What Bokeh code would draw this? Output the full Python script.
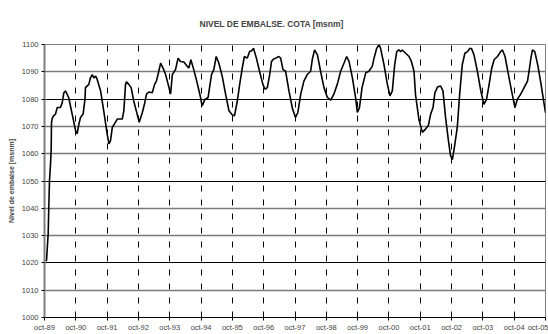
from bokeh.plotting import figure
from bokeh.models import FixedTicker, Range1d, Grid, ColumnDataSource
from bokeh.embed import file_html
from bokeh.resources import INLINE

# months since oct-89 and reservoir level [msnm]
months = [0.38, 0.77, 1.42, 1.65, 1.92, 2.3, 2.57, 2.68, 3.0, 3.34, 4.2, 4.9, 6.1, 6.8, 7.4, 8.05,
          9.3, 10.6, 11.9, 12.5, 13.2, 13.8, 14.8, 15.5, 15.7, 17.0, 17.6, 18.3, 18.9, 19.6, 20.2,
          21.5, 22.7, 24.0, 24.7, 25.3, 26.0, 26.8, 27.9, 29.8, 30.4, 31.05, 31.4, 32.3, 33.2,
          34.2, 35.5, 36.3, 37.5, 38.3, 39.1, 40.0, 41.3, 42.2, 42.9, 43.8, 44.5, 45.7, 46.4,
          47.4, 48.3, 49.0, 50.2, 51.2, 52.1, 53.4, 54.7, 55.3, 56.1, 57.2, 58.5, 59.8, 60.4,
          61.5, 62.7, 64.0, 64.9, 65.8, 66.8, 68.1, 69.4, 70.7, 72.0, 72.8, 73.9, 74.8, 75.8,
          76.6, 77.7, 78.6, 79.4, 80.1, 81.2, 82.4, 83.7, 84.5, 85.4, 86.3, 87.0, 87.9, 88.6,
          89.8, 90.5, 91.4, 92.4, 93.7, 95.0, 96.2, 97.1, 98.2, 99.4, 100.7, 102.0, 102.6,
          103.5, 104.6, 105.8, 107.1, 108.4, 109.7, 110.9, 112.2, 113.5, 114.8, 115.8, 116.7,
          118.0, 119.2, 119.9, 120.7, 121.7, 123.1, 124.3, 125.6, 126.3, 127.3, 128.2, 128.8,
          130.1, 131.4, 132.4, 133.3, 134.2, 135.0, 135.8, 136.5, 137.1, 138.4, 139.7, 140.6,
          141.6, 142.2, 143.5, 144.8, 146.1, 147.1, 148.0, 148.9, 149.6, 150.6, 151.8, 152.7,
          153.7, 154.8, 155.6, 156.3, 157.1, 158.2, 159.1, 160.1, 161.1, 162.1, 163.1, 163.7,
          164.6, 165.9, 167.2, 168.4, 169.4, 170.4, 171.4, 172.3, 173.6, 174.8, 175.5, 176.5,
          177.8, 179.0, 180.3, 181.2, 182.5, 183.8, 185.1, 185.7, 186.4, 187.0, 187.9, 189.0,
          190.3, 191.5, 192.0]
level = [1021.0, 1020.8, 1030.9, 1040.6, 1050.2, 1056.0, 1062.0, 1071.5, 1073.0, 1073.7, 1074.5,
         1076.9, 1076.9, 1078.7, 1082.3, 1083.0, 1080.5, 1074.5, 1068.5, 1067.3, 1070.9, 1073.3,
         1074.5, 1079.9, 1084.2, 1085.4, 1087.8, 1089.0, 1087.8, 1088.4, 1087.2, 1083.0, 1075.7,
         1067.3, 1063.6, 1064.8, 1069.7, 1070.9, 1072.7, 1072.7, 1075.7, 1085.4, 1086.3, 1085.4,
         1084.2, 1079.3, 1074.5, 1071.5, 1075.1, 1078.1, 1081.8, 1082.6, 1082.3, 1085.4, 1086.6,
         1090.2, 1093.2, 1090.8, 1089.0, 1085.4, 1081.8, 1089.0, 1090.8, 1095.0, 1093.8, 1093.6,
         1092.0, 1091.4, 1094.4, 1090.8, 1086.0, 1080.6, 1077.5, 1079.9, 1080.6, 1089.0, 1090.8,
         1095.6, 1093.2, 1088.4, 1081.8, 1075.7, 1074.2, 1073.9, 1079.3, 1085.4, 1091.4, 1095.6,
         1095.0, 1097.4, 1097.7, 1098.6, 1095.0, 1090.2, 1085.4, 1083.6, 1084.2, 1089.0, 1093.8,
         1094.8, 1095.0, 1095.6, 1095.0, 1090.8, 1090.2, 1082.9, 1076.6, 1073.3, 1075.1, 1081.8,
         1086.6, 1089.0, 1090.2, 1094.4, 1098.0, 1096.2, 1090.2, 1084.2, 1080.6, 1079.6, 1081.8,
         1085.4, 1090.2, 1093.2, 1095.6, 1093.8, 1087.8, 1080.6, 1075.1, 1076.9, 1084.2, 1089.6,
         1090.2, 1092.0, 1095.0, 1098.6, 1099.9, 1098.6, 1092.6, 1085.4, 1081.2, 1083.0, 1092.6,
         1097.4, 1098.0, 1097.4, 1098.0, 1096.8, 1095.6, 1093.8, 1090.2, 1081.5, 1072.5, 1067.8,
         1069.1, 1070.3, 1074.5, 1076.9, 1082.3, 1084.4, 1084.8, 1083.0, 1073.3, 1064.8, 1059.4,
         1057.8, 1062.4, 1069.7, 1081.8, 1092.6, 1096.8, 1097.4, 1098.6, 1098.4, 1096.2, 1090.2,
         1083.0, 1078.1, 1079.9, 1085.4, 1091.4, 1094.4, 1095.6, 1097.4, 1098.0, 1095.6, 1089.0,
         1083.0, 1076.9, 1079.9, 1081.8, 1084.2, 1086.6, 1090.2, 1095.0, 1098.0, 1097.4, 1092.6,
         1085.4, 1078.1, 1075.0]

tick_months = [0, 12, 24, 36, 48, 60, 72, 84, 96, 108, 120, 132, 144, 156, 168, 180, 192]
tick_labels = ["oct-89", "oct-90", "oct-91", "oct-92", "oct-93", "oct-94", "oct-95", "oct-96",
               "oct-97", "oct-98", "oct-99", "oct-00", "oct-01", "oct-02", "oct-03", "oct-04",
               "oct-05"]
y_ticks = [1000, 1010, 1020, 1030, 1040, 1050, 1060, 1070, 1080, 1090, 1100]

FONT = "Liberation Sans"

p = figure(width=548, height=334, output_backend="svg", toolbar_location=None,
           x_range=Range1d(0, 192), y_range=Range1d(1000, 1100),
           min_border_left=44, min_border_right=3, min_border_top=44, min_border_bottom=14,
           title="NIVEL DE EMBALSE. COTA [msnm]")
p.background_fill_color = "white"
p.border_fill_color = "white"
p.outline_line_color = "#808080"
p.outline_line_width = 1

p.title.text_font = FONT
p.title.text_font_size = "8.5px"
p.title.text_font_style = "bold"
p.title.align = "left"
p.title.offset = 155
p.title.standoff = 31

# axes
p.xaxis.ticker = FixedTicker(ticks=tick_months)
p.xaxis.major_label_overrides = {m: l for m, l in zip(tick_months, tick_labels)}
p.xaxis.axis_line_color = "black"
p.xaxis.major_tick_out = 3
p.xaxis.major_tick_in = 0
p.xaxis.minor_tick_line_color = None
p.xaxis.major_label_text_font = FONT
p.xaxis.major_label_text_font_size = "7.5px"
p.xaxis.major_label_standoff = 2

p.yaxis.ticker = FixedTicker(ticks=y_ticks)
p.yaxis.axis_line_color = "#808080"
p.yaxis.axis_line_width = 2
p.yaxis.major_tick_out = 3
p.yaxis.major_tick_in = 0
p.yaxis.minor_tick_line_color = None
p.yaxis.major_label_text_font = FONT
p.yaxis.major_label_text_font_size = "7.5px"
p.yaxis.major_label_standoff = 3
p.yaxis.axis_label = "Nivel de embalse [msnm]"
p.yaxis.axis_label_text_font = FONT
p.yaxis.axis_label_text_font_size = "7px"
p.yaxis.axis_label_text_font_style = "bold"
p.yaxis.axis_label_standoff = 4

# grids
p.xgrid.ticker = FixedTicker(ticks=tick_months[1:-1])
p.xgrid.grid_line_color = "black"
p.xgrid.grid_line_dash = "6 8"
p.xgrid.grid_line_width = 1

p.ygrid.ticker = FixedTicker(ticks=[1010, 1030, 1040, 1060, 1070, 1090, 1100])
p.ygrid.grid_line_color = "#7a7a7a"
p.ygrid.grid_line_width = 1.3
p.add_layout(Grid(dimension=1, ticker=FixedTicker(ticks=[1020, 1050, 1080]),
                  grid_line_color="black", grid_line_width=1))

src = ColumnDataSource(data=dict(m=months, v=level))
p.line("m", "v", source=src, line_color="black", line_width=1.6)

open("out.html", "w").write(file_html(p, INLINE))
